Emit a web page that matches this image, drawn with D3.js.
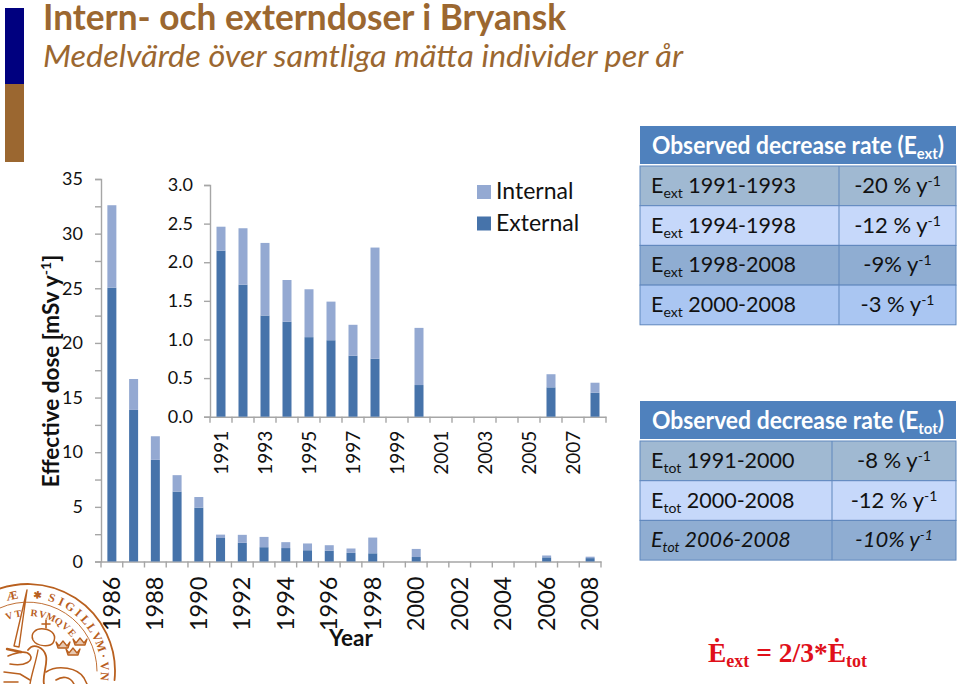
<!DOCTYPE html>
<html><head><meta charset="utf-8">
<script src="https://cdn.jsdelivr.net/npm/d3@7"></script>
<style>html,body{margin:0;padding:0;background:#fff}svg{display:block}text{font-family:Lato,"Open Sans",sans-serif}</style>
</head><body><div id="c"></div>
<script>
const yearsAll = d3.range(1986, 2009);
const externalAll = [25.05,13.87,9.3,6.4,4.93,2.15,1.71,1.31,1.23,1.03,0.99,0.79,0.75,0,0.41,0,0,0,0,0,0.38,0,0.31];
const internalAll = [7.55,2.83,2.16,1.5,0.97,0.31,0.73,0.94,0.54,0.62,0.5,0.4,1.44,0,0.74,0,0,0,0,0,0.17,0,0.13];
const yearsInset = d3.range(1991, 2009);
const externalInset = externalAll.slice(5);
const internalInset = internalAll.slice(5);
const mainTicks = [0,2.5,5,7.5,10,12.5,15,17.5,20,22.5,25,27.5,30,32.5,35];
const insetTicks = [0,0.5,1,1.5,2,2.5,3];
const seriesNames = ["Internal","External"];
const colors = {External:"#4673aa", Internal:"#94a9d2"};
const tableExt = [["1991-1993","-20 % y","-1"],["1994-1998","-12 % y","-1"],["1998-2008","-9% y","-1"],["2000-2008","-3 % y","-1"]];
const tableTot = [["1991-2000","-8 % y","-1"],["2000-2008","-12 % y","-1"],["2006-2008","-10% y","-1"]];
const rowColors = ["#a0b9d2","#c6d8fa","#8fadd2","#aac6f2"];
const brown = "#9b6730", axisGrey = "#a6a6a6", sealColor = "#b9601f";

const svg = d3.select("#c").append("svg").attr("width",960).attr("height",684);

// seal (drawn first, tick labels sit on top of it)
const SX=28, SY=671;
const arcPath=(r,a0,a1)=>{const p=a=>[SX+r*Math.sin(a*Math.PI/180),SY-r*Math.cos(a*Math.PI/180)];const s=p(a0),e=p(a1);return `M${s[0]},${s[1]}A${r},${r} 0 ${Math.abs(a1-a0)>180?1:0} 1 ${e[0]},${e[1]}`;};
const seal = svg.append("g").attr("fill","none").attr("stroke",sealColor).attr("stroke-linecap","round").attr("stroke-linejoin","round");
seal.append("path").attr("d",arcPath(87,-30,96)).attr("stroke-width",1.8);
seal.append("path").attr("d",arcPath(69,-24,90)).attr("stroke-width",.9);
seal.append("path").attr("d","M27,590L19,647L14,646Z").attr("stroke-width",1.4);
seal.append("path").attr("d","M7,649L21,652").attr("stroke-width",2.4);
seal.append("path").attr("d","M8,656C18,652 26,650 30,655C34,660 26,667 10,664").attr("stroke-width",1.6);
seal.append("path").attr("d","M33,640C30,633 36,628 44,629C53,630 57,636 53,643C50,647 37,647 33,640Z").attr("stroke-width",1.5);
seal.append("path").attr("d","M46,620V628M42,624H50").attr("stroke-width",1.6);
seal.append("path").attr("d","M28,650C34,642 44,648 46,656C48,664 42,676 44,684").attr("stroke-width",1.8);
seal.append("path").attr("d","M38,650C36,662 32,672 30,684").attr("stroke-width",1.4);
seal.append("path").attr("d","M46,672C58,664 78,668 84,678L87,684M56,680C62,676 70,676 74,684").attr("stroke-width",1.6);
seal.append("path").attr("d","M4,672L20,674L30,680M4,682H18").attr("stroke-width",1.5);
[[63,645],[80,642],[73,652]].forEach(c=>{
  seal.append("path").attr("transform",`translate(${c[0]},${c[1]})`).attr("d","M-7,-3L-4,1L0,-4L4,1L7,-3L5,3H-5Z").attr("stroke-width",1.3).attr("fill",sealColor).attr("fill-opacity",.35);
});
function sealText(r,a0,step,txt,fs){
  Array.from(txt).forEach((ch,i)=>{
    const a=(a0+i*step), rad=a*Math.PI/180;
    svg.append("text").style("font-family","'Liberation Serif',serif").attr("font-size",fs).attr("fill",sealColor).attr("font-weight",700)
      .attr("text-anchor","middle")
      .attr("transform",`translate(${SX+r*Math.sin(rad)},${SY-r*Math.cos(rad)}) rotate(${a})`).text(ch);
  });
}
sealText(73,18,7.6,"SIGILLVM·VNI",12);
sealText(73,-12,0,"Æ",12);
sealText(73,7,0,"✱",10);
sealText(55,6,8.6,"RVMQVE",10);
sealText(55,-19,9,"VT",10);

// side bar and titles
svg.append("rect").attr("x",5).attr("y",8).attr("width",19).attr("height",77).attr("fill","#00007f");
svg.append("rect").attr("x",5).attr("y",84).attr("width",19).attr("height",78).attr("fill",brown);
svg.append("text").attr("x",43).attr("y",30).attr("font-size",37).attr("font-weight",700).attr("fill",brown)
  .attr("textLength",523).attr("lengthAdjust","spacingAndGlyphs").text("Intern- och externdoser i Bryansk");
svg.append("text").attr("x",43).attr("y",67).attr("font-size",31).attr("font-style","italic").attr("fill",brown)
  .attr("textLength",640).attr("lengthAdjust","spacingAndGlyphs").text("Medelvärde över samtliga mätta individer per år");

function chart(o){
  const x = d3.scaleBand().domain(o.years).range([o.x0,o.x1]).paddingInner(0);
  const y = d3.scaleLinear().domain([0,o.max]).range([o.y0,o.y1]);
  const g = svg.append("g");
  const ya = d3.axisLeft(y).tickValues(o.ticks).tickSize(6).tickPadding(o.pad).tickFormat(o.fmt);
  const yg = g.append("g").attr("transform",`translate(${o.x0},0)`).call(ya);
  yg.selectAll("text").attr("font-size",o.fs).attr("fill","#111");
  const xa = d3.axisBottom(x).tickSize(0).tickFormat("");
  const xg = g.append("g").attr("transform",`translate(0,${o.y0})`).call(xa);
  xg.selectAll(".tick").remove();
  xg.selectAll("line.t").data(d3.range(o.years.length+1)).join("line").attr("class","t")
    .attr("x1",i=>o.x0+i*x.step()).attr("x2",i=>o.x0+i*x.step()).attr("y1",0).attr("y2",6);
  g.selectAll(".domain,line").attr("stroke",axisGrey).attr("stroke-width",1.4);
  const stack = d3.stack().keys(["External","Internal"])(o.years.map((yr,i)=>({year:yr,External:o.ext[i],Internal:o.int[i]})));
  stack.forEach(s=>{
    g.append("g").selectAll("rect").data(s).join("rect")
      .attr("x",d=>x(d.data.year)+(x.step()-o.bw)/2)
      .attr("width",o.bw)
      .attr("y",d=>y(d[1]))
      .attr("height",d=>y(d[0])-y(d[1]))
      .attr("fill",colors[s.key]);
  });
  g.selectAll("text.yl").data(o.years.filter((yr,i)=>i%2===0)).join("text").attr("class","yl")
    .attr("transform",yr=>`translate(${x(yr)+x.step()/2+o.lx},${o.y0+o.ly}) rotate(-90)`)
    .attr("text-anchor","end").attr("font-size",o.xfs).attr("fill","#111").text(yr=>yr);
}
chart({years:yearsAll,ext:externalAll,int:internalAll,x0:101,x1:601,y0:561.5,y1:179,max:35,ticks:mainTicks,
  fmt:d=>d%5===0?d:"",fs:18,pad:12,bw:9,xfs:23.5,lx:8,ly:15});
chart({years:yearsInset,ext:externalInset,int:internalInset,x0:210,x1:606,y0:416.7,y1:185,max:3,ticks:insetTicks,
  fmt:d3.format(".1f"),fs:18,pad:11,bw:9,xfs:19,lx:7,ly:14});

// legend
seriesNames.forEach((n,i)=>{
  svg.append("rect").attr("x",477).attr("y",185+i*31.5).attr("width",14).attr("height",14).attr("fill",colors[n]);
  svg.append("text").attr("x",496).attr("y",199+i*31.5).attr("font-size",23).attr("fill","#111").text(n);
});

// axis titles
svg.append("text").attr("transform","translate(59,371) rotate(-90)").attr("text-anchor","middle").attr("font-size",22.5).attr("font-weight",700)
  .attr("fill","#111").call(t=>{t.append("tspan").text("Effective dose [mSv y");t.append("tspan").attr("font-size",14).attr("dy",-8).text("-1");t.append("tspan").attr("dy",8).text("]");});
svg.append("text").attr("x",351).attr("y",646).attr("text-anchor","middle").attr("font-size",22.5).attr("font-weight",700).attr("fill","#111").text("Year");

// tables
function table(o){
  const g = svg.append("g");
  g.append("rect").attr("x",640).attr("y",o.y).attr("width",316).attr("height",38).attr("fill","#4f81bd");
  const h = g.append("text").attr("x",798).attr("y",o.y+28).attr("text-anchor","middle").attr("font-size",o.hfs).attr("font-weight",700).attr("fill","#fff")
    .attr("textLength",292).attr("lengthAdjust","spacingAndGlyphs");
  h.append("tspan").text("Observed decrease rate (E");
  h.append("tspan").attr("font-size",o.hfs*.65).attr("dy",5).text(o.sym);
  h.append("tspan").attr("dy",-5).text(")");
  o.rows.forEach((r,i)=>{
    const ry = o.y+40+i*39.7;
    g.append("rect").attr("x",640).attr("y",ry).attr("width",316).attr("height",39.7).attr("fill",rowColors[i]).attr("stroke","#5f87bd").attr("stroke-width",1);
    g.append("line").attr("x1",o.cx).attr("x2",o.cx).attr("y1",ry).attr("y2",ry+39.7).attr("stroke","#5f87bd");
    const st = i===2&&o.italicLast?"italic":"normal";
    const a = g.append("text").attr("x",651).attr("y",ry+27).attr("font-size",21.5).attr("font-style",st).attr("fill","#111");
    a.append("tspan").text("E");
    a.append("tspan").attr("font-size",14).attr("dy",5).text(o.sym);
    a.append("tspan").attr("dy",-5).text(" "+r[0]);
    const b = g.append("text").attr("x",(o.cx+956)/2).attr("y",ry+27).attr("text-anchor","middle").attr("font-size",22).attr("font-style",st).attr("fill","#111");
    b.append("tspan").text(r[1]);
    b.append("tspan").attr("font-size",14).attr("dy",-7).text(r[2]);
  });
}
table({y:126,sym:"ext",rows:tableExt,cx:839,hfs:24.5});
table({y:401,sym:"tot",rows:tableTot,cx:832,hfs:24.5,italicLast:true});

// formula
const f = svg.append("text").attr("x",708).attr("y",662).attr("font-weight",700).attr("font-size",27.5).attr("fill","#e0101a");
f.style("font-family","'Liberation Serif',serif");
f.append("tspan").text("Ė");
f.append("tspan").attr("font-size",18).attr("dy",5).text("ext");
f.append("tspan").attr("dy",-5).text(" = 2/3*Ė");
f.append("tspan").attr("font-size",18).attr("dy",5).text("tot");
</script></body></html>
